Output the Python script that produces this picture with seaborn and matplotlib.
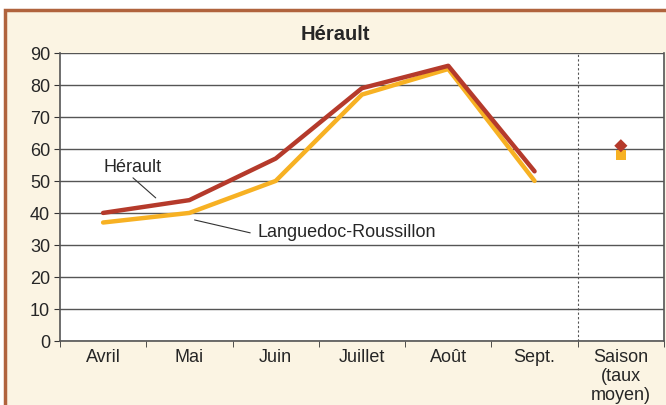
import numpy as np
import pandas as pd
import matplotlib
matplotlib.use('Agg')
import matplotlib.pyplot as plt
import seaborn as sns
from matplotlib.patches import Rectangle

# data
months = ['Avril', 'Mai', 'Juin', 'Juillet', 'Août', 'Sept.']
herault = [40, 44, 57, 79, 86, 53]
languedoc = [37, 40, 50, 77, 85, 50]
saison_herault = 61
saison_languedoc = 58
categories = months + ['Saison\n(taux\nmoyen)']

sns.set_style('white')
plt.rcParams['font.family'] = ['Liberation Sans', 'DejaVu Sans']

red = '#B53A2B'
orange = '#F7B123'

fig = plt.figure(figsize=(6.66, 4.06), dpi=100)
fig.patch.set_facecolor('white')
# beige card with brown border
fig.patches.append(Rectangle((0.007, -0.05), 1.1, 1.023, transform=fig.transFigure,
                             facecolor='#FBF4E3', edgecolor='#B0633D', linewidth=2.5, zorder=-5))

ax = fig.add_axes([0.09, 0.158, 0.907, 0.709])
ax.set_zorder(1)
ax.set_facecolor('white')

df = pd.DataFrame({'pos': list(range(len(months))) * 2,
                   'value': herault + languedoc,
                   'zone': ['Hérault'] * len(months) + ['Languedoc-Roussillon'] * len(months)})
sns.lineplot(data=df, x='pos', y='value', hue='zone', palette={'Hérault': red, 'Languedoc-Roussillon': orange},
             hue_order=['Languedoc-Roussillon', 'Hérault'], linewidth=3.2, legend=False, ax=ax)

saison = len(months)
sns.scatterplot(x=[saison], y=[saison_languedoc], marker='s', s=50, color=orange, edgecolor='none', ax=ax, zorder=3)
sns.scatterplot(x=[saison], y=[saison_herault], marker='D', s=45, color=red, edgecolor='none', ax=ax, zorder=4)

ax.set_xlim(-0.5, len(categories) - 0.5)
ax.set_ylim(0, 90)
ax.set_yticks(range(0, 91, 10))
ax.yaxis.grid(True, color='#555555', linewidth=1.0)
ax.set_axisbelow(True)
ax.axvline(saison - 0.5, color='#555555', linestyle=(0, (2, 2)), linewidth=0.8)

ax.set_xticks(range(len(categories)))
ax.set_xticklabels(categories, va='top', linespacing=1.15)
ax.set_xticks(np.arange(-0.5, len(categories), 1), minor=True)
ax.tick_params(axis='x', which='major', length=0, pad=5, labelsize=13)
ax.tick_params(axis='x', which='minor', length=4, color='#333333', direction='out', bottom=True)
ax.tick_params(axis='y', length=4, color='#333333', labelsize=13, pad=3, left=True)
for side in ['left', 'right', 'bottom']:
    ax.spines[side].set_color('#555555')
    ax.spines[side].set_linewidth(1.2)
ax.spines['top'].set_visible(False)
ax.set_xlabel('')
ax.set_ylabel('')
fig.text(0.503, 0.915, 'Hérault', fontweight='bold', fontsize=14.5, ha='center', va='center')

# labels with leader lines
ax.annotate('Hérault', xy=(0.61, 44.7), xytext=(0.0, 52.0), fontsize=13,
            arrowprops=dict(arrowstyle='-', color='#333333', linewidth=0.8, shrinkA=0, shrinkB=0,
                            relpos=(0.45, 0)),
            ha='left', va='bottom')
ax.annotate('Languedoc-Roussillon', xy=(1.06, 37.8), xytext=(1.79, 34.3), fontsize=13,
            arrowprops=dict(arrowstyle='-', color='#333333', linewidth=0.8, shrinkA=3, shrinkB=0,
                            relpos=(0, 0.3)),
            ha='left', va='center')

fig.savefig('out.png', dpi=100)
